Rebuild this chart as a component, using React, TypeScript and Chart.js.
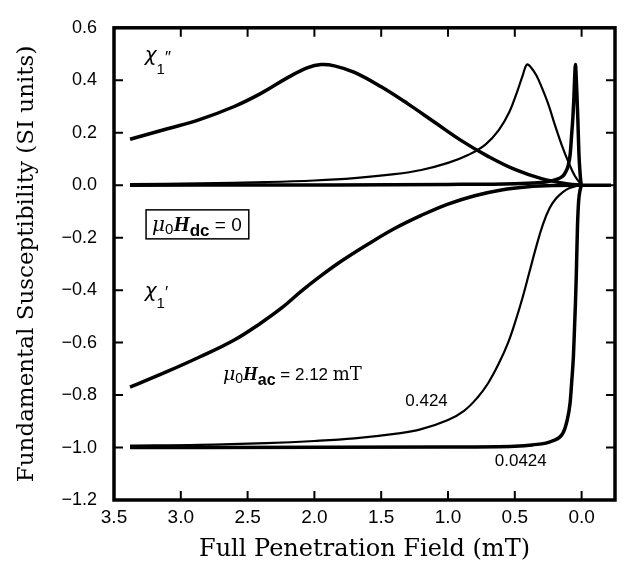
import React, { useEffect, useRef } from "react";
import { Chart, registerables } from "chart.js";

Chart.register(...registerables);

// ---- axis ticks ----
const xTickValues = [3.5, 3.0, 2.5, 2.0, 1.5, 1.0, 0.5, 0.0];
const yTickValues = [0.6, 0.4, 0.2, 0.0, -0.2, -0.4, -0.6, -0.8, -1.0, -1.2];

// ---- μ0Hac = 2.12 mT ----
const hac212ImagX = [3.38, 3.1, 2.86, 2.6, 2.4, 2.2, 2.05, 1.95, 1.85, 1.7, 1.5, 1.3, 1.1, 0.9, 0.7, 0.5, 0.3, 0.1, 0.0];
const hac212ImagY = [0.175, 0.215, 0.25, 0.3, 0.35, 0.41, 0.448, 0.46, 0.455, 0.43, 0.375, 0.31, 0.24, 0.17, 0.11, 0.06, 0.025, 0.005, 0.0];
const hac212RealX = [3.38, 3.1, 2.86, 2.6, 2.4, 2.25, 2.1, 1.95, 1.8, 1.6, 1.4, 1.2, 1.0, 0.8, 0.6, 0.4, 0.2, 0.0];
const hac212RealY = [-0.77, -0.71, -0.655, -0.59, -0.525, -0.47, -0.405, -0.345, -0.29, -0.225, -0.165, -0.115, -0.072, -0.04, -0.018, -0.006, -0.001, 0.0];

// ---- μ0Hac = 0.424 mT ----
const hac0424ImagX = [3.38, 2.86, 2.36, 2.0, 1.7, 1.4, 1.2, 1.0, 0.85, 0.72, 0.62, 0.54, 0.48, 0.44, 0.41, 0.38, 0.34, 0.3, 0.25, 0.2, 0.15, 0.1, 0.05, 0.0];
const hac0424ImagY = [0.004, 0.007, 0.012, 0.018, 0.027, 0.042, 0.058, 0.085, 0.115, 0.155, 0.21, 0.28, 0.36, 0.42, 0.46, 0.45, 0.42, 0.375, 0.31, 0.23, 0.155, 0.09, 0.035, 0.0];
const hac0424RealX = [3.38, 2.86, 2.36, 2.0, 1.7, 1.4, 1.2, 1.0, 0.88, 0.78, 0.7, 0.62, 0.55, 0.49, 0.44, 0.39, 0.34, 0.29, 0.24, 0.19, 0.14, 0.09, 0.04, 0.0];
const hac0424RealY = [-0.993, -0.99, -0.983, -0.975, -0.965, -0.948, -0.93, -0.895, -0.86, -0.81, -0.755, -0.68, -0.6, -0.51, -0.425, -0.33, -0.235, -0.15, -0.088, -0.05, -0.026, -0.011, -0.003, 0.0];

// ---- μ0Hac = 0.0424 mT ----
const hac00424ImagX = [3.38, 2.0, 1.0, 0.5, 0.3, 0.2, 0.14, 0.12, 0.1, 0.085, 0.075, 0.065, 0.058, 0.052, 0.046, 0.042, 0.036, 0.028, 0.02, 0.012, 0.005, 0.0, -0.22];
const hac00424ImagY = [0.0, 0.001, 0.003, 0.006, 0.01, 0.02, 0.035, 0.05, 0.075, 0.12, 0.19, 0.26, 0.33, 0.41, 0.46, 0.43, 0.36, 0.25, 0.12, 0.05, 0.01, 0.0, 0.0];
const hac00424RealX = [3.38, 1.0, 0.5, 0.37, 0.22, 0.14, 0.11, 0.086, 0.074, 0.061, 0.052, 0.046, 0.04, 0.031, 0.022, 0.011, 0.0];
const hac00424RealY = [-1.0, -0.998, -0.995, -0.99, -0.975, -0.945, -0.9, -0.83, -0.75, -0.65, -0.53, -0.45, -0.35, -0.16, -0.06, -0.018, 0.0];

// ---- labels ----
const xTitle = "Full Penetration Field (mT)";
const yTitle = "Fundamental Susceptibility (SI units)";
const labelHacValues = ["2.12 mT", "0.424", "0.0424"];

const pts = (xs: number[], ys: number[]) => xs.map((x, i) => ({ x, y: ys[i] }));
const fmt = (v: number) => {
  const s = Math.abs(v).toFixed(1);
  return v < -1e-9 ? "\u2212" + s : s;
};

type Seg = { t: string; f: string; dy?: number };
function drawRich(ctx: CanvasRenderingContext2D, x: number, y: number, segs: Seg[]) {
  let cx = x;
  for (const s of segs) {
    ctx.font = s.f;
    ctx.fillText(s.t, cx, y + (s.dy || 0));
    cx += ctx.measureText(s.t).width;
  }
  return cx;
}

const framePlugin = {
  id: "frameTicks",
  afterDatasetsDraw(chart: any) {
    const { ctx, chartArea: a, scales } = chart;
    const xs = scales.x;
    const ys = scales.y;
    ctx.save();
    ctx.strokeStyle = "#000";
    ctx.lineWidth = 2;
    const L = 9;
    ctx.beginPath();
    for (const v of xTickValues) {
      const px = xs.getPixelForValue(v);
      if (px <= a.left + 2 || px >= a.right - 2) continue;
      ctx.moveTo(px, a.bottom);
      ctx.lineTo(px, a.bottom - L);
      ctx.moveTo(px, a.top);
      ctx.lineTo(px, a.top + L);
    }
    for (const v of yTickValues) {
      const py = ys.getPixelForValue(v);
      if (py <= a.top + 2 || py >= a.bottom - 2) continue;
      ctx.moveTo(a.left, py);
      ctx.lineTo(a.left + L, py);
      ctx.moveTo(a.right, py);
      ctx.lineTo(a.right - L, py);
    }
    ctx.stroke();
    ctx.lineWidth = 3.5;
    ctx.strokeRect(a.left, a.top, a.right - a.left, a.bottom - a.top);

    // annotations
    ctx.fillStyle = "#000";
    ctx.textBaseline = "alphabetic";
    ctx.textAlign = "left";
    const X = (v: number) => xs.getPixelForValue(v);
    const Y = (v: number) => ys.getPixelForValue(v);
    const chiF = 'italic 20px "DejaVu Sans"';
    const subF = '15px "Liberation Sans"';
    const primeF = '17px "Liberation Sans"';
    // chi1''
    drawRich(ctx, X(3.27), Y(0.474), [
      { t: "\u03c7", f: chiF },
      { t: "1", f: subF, dy: 13 },
      { t: "\u2033", f: primeF, dy: 2 },
    ]);
    // chi1'
    drawRich(ctx, X(3.27), Y(-0.4245), [
      { t: "\u03c7", f: chiF },
      { t: "1", f: subF, dy: 11 },
      { t: "\u2032", f: primeF, dy: 1 },
    ]);
    // box mu0 Hdc = 0
    const bx = X(3.26);
    const byTop = Y(-0.094);
    const by = byTop + 21;
    const endX = drawRich(ctx, bx + 6, by, [
      { t: "\u03bc", f: 'italic 20px "DejaVu Serif"' },
      { t: "0", f: '15px "Liberation Sans"', dy: 3 },
      { t: "H", f: 'italic bold 21px "Liberation Serif"' },
      { t: "dc", f: 'bold 17px "Liberation Sans"', dy: 5 },
      { t: " = 0", f: '19px "Liberation Sans"' },
    ]);
    ctx.lineWidth = 1.5;
    ctx.strokeRect(bx, byTop, endX - bx + 7, 29);
    // mu0 Hac = 2.12 mT
    const ex = drawRich(ctx, X(2.685), Y(-0.744), [
      { t: "\u03bc", f: 'italic 19px "DejaVu Serif"' },
      { t: "0", f: '14px "Liberation Sans"', dy: 3 },
      { t: "H", f: 'italic bold 19px "Liberation Serif"' },
      { t: "ac", f: 'bold 16px "Liberation Sans"', dy: 5 },
      { t: " = 2.12 ", f: '17px "Liberation Sans"' },
    ]);
    ctx.font = '18px "DejaVu Serif"';
    ctx.fillText("mT", ex, Y(-0.744));
    ctx.font = '17px "Liberation Sans"';
    ctx.fillText(labelHacValues[1], X(1.32), Y(-0.84));
    ctx.fillText(labelHacValues[2], X(0.65), Y(-1.07));
    ctx.restore();
  },
};

export default function App() {
  const ref = useRef<HTMLCanvasElement>(null);
  useEffect(() => {
    document.body.style.margin = "0";
    const canvas = ref.current!;
    const thick = 3.5;
    const smooth = { tension: 0.4, cubicInterpolationMode: "default" as const };
    const sharp = { tension: 0, cubicInterpolationMode: "monotone" as const };
    const chart = new Chart(canvas, {
      type: "line",
      data: {
        datasets: [
          { data: pts(hac212ImagX, hac212ImagY), borderWidth: thick, ...smooth },
          { data: pts(hac212RealX, hac212RealY), borderWidth: thick, ...smooth },
          { data: pts(hac0424ImagX, hac0424ImagY), borderWidth: 2.2, ...smooth },
          { data: pts(hac0424RealX, hac0424RealY), borderWidth: 2.2, ...smooth },
          { data: pts(hac00424ImagX, hac00424ImagY), borderWidth: thick, ...sharp },
          { data: pts(hac00424RealX, hac00424RealY), borderWidth: thick, ...sharp },
        ].map((d) => ({
          ...d,
          borderColor: "#000",
          backgroundColor: "#000",
          pointRadius: 0,
          fill: false,
        })),
      },
      options: {
        animation: false,
        responsive: false,
        parsing: false as any,
        layout: { padding: { top: 15, right: 9, bottom: 0, left: 0 } },
        plugins: { legend: { display: false }, tooltip: { enabled: false } },
        scales: {
          x: {
            type: "linear",
            reverse: true,
            min: -0.25,
            max: 3.5,
            grid: { display: false, drawTicks: false },
            border: { display: false },
            afterBuildTicks: (s: any) => {
              s.ticks = xTickValues.map((value) => ({ value }));
            },
            afterFit: (s: any) => {
              s.height = 64;
            },
            ticks: {
              color: "#000",
              padding: 6,
              maxRotation: 0,
              autoSkip: false,
              font: { family: "Liberation Sans", size: 19 },
              callback: (v: any) => fmt(Number(v)),
            },
            title: {
              display: true,
              text: xTitle,
              color: "#000",
              font: { family: "DejaVu Serif", size: 24 },
              padding: { top: 0, bottom: 0 },
            },
          },
          y: {
            type: "linear",
            min: -1.2,
            max: 0.6,
            grid: { display: false, drawTicks: false },
            border: { display: false },
            afterBuildTicks: (s: any) => {
              s.ticks = yTickValues.map((value) => ({ value }));
            },
            afterFit: (s: any) => {
              s.width = 114;
            },
            ticks: {
              color: "#000",
              padding: 17,
              autoSkip: false,
              font: { family: "Liberation Sans", size: 18 },
              callback: (v: any) => fmt(Number(v)),
            },
            title: {
              display: true,
              text: yTitle,
              color: "#000",
              font: { family: "DejaVu Serif", size: 23 },
              padding: { top: 13, bottom: 0 },
            },
          },
        },
      },
      plugins: [framePlugin],
    });
    return () => chart.destroy();
  }, []);
  return (
    <div style={{ width: 624, height: 564, background: "#fff" }}>
      <canvas ref={ref} width={624} height={564} />
    </div>
  );
}
